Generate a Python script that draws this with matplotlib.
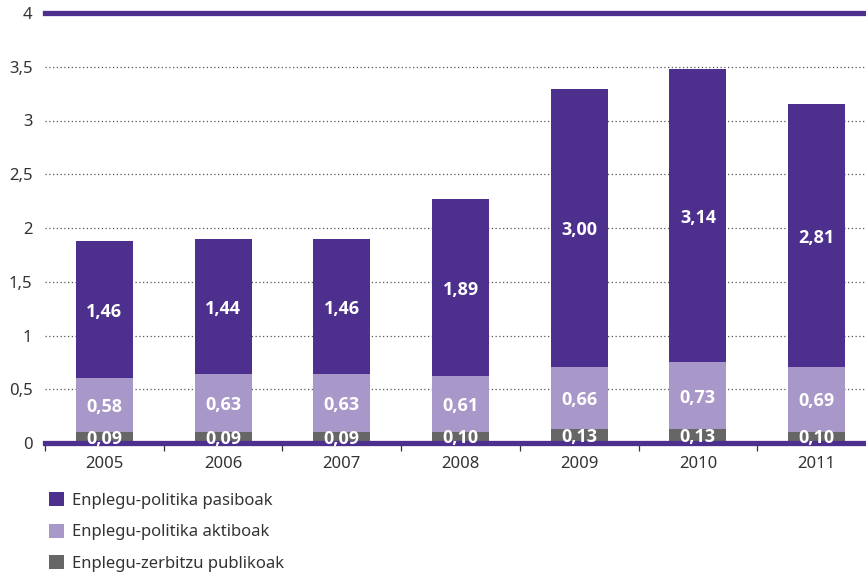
import matplotlib
matplotlib.use("Agg")
import matplotlib.pyplot as plt
import numpy as np

plt.rcParams['font.family'] = ['Noto Sans', 'DejaVu Sans']

years = ['2005', '2006', '2007', '2008', '2009', '2010', '2011']

# values printed on the bars
public_vals = [0.09, 0.09, 0.09, 0.10, 0.13, 0.13, 0.10]
active_vals = [0.58, 0.63, 0.63, 0.61, 0.66, 0.73, 0.69]
passive_vals = [1.46, 1.44, 1.46, 1.89, 3.00, 3.14, 2.81]

# segment heights as drawn in the picture (they do not follow the printed values)
public_h = [0.10, 0.10, 0.10, 0.105, 0.13, 0.13, 0.105]
active_h = [0.505, 0.54, 0.54, 0.52, 0.58, 0.625, 0.605]
passive_h = [1.275, 1.26, 1.26, 1.645, 2.585, 2.725, 2.44]

labels = ['Enplegu-politika pasiboak', 'Enplegu-politika aktiboak', 'Enplegu-zerbitzu publikoak']

DARK = '#4d2f8e'
LIGHT = '#a898c9'
GREY = '#666666'
TXT = '#333333'
LBL_FONT = ['Open Sans', 'Lato', 'DejaVu Sans']


def fmt(v):
    return f"{v:.2f}".replace('.', ',')


fig = plt.figure(figsize=(8.66, 5.72), dpi=100)
W, H = 866, 572
ax = fig.add_axes([45 / W, (H - 443) / H, (876 - 45) / W, (443 - 13) / H])

x = np.arange(len(years))
bw = 0.48
b1 = ax.bar(x, public_h, bw, color=GREY, zorder=2)
b2 = ax.bar(x, active_h, bw, bottom=public_h, color=LIGHT, zorder=2)
bottom2 = np.array(public_h) + np.array(active_h)
b3 = ax.bar(x, passive_h, bw, bottom=bottom2, color=DARK, zorder=2)

# data labels
for i in range(len(years)):
    ax.text(x[i], public_h[i] / 2 - 0.01, fmt(public_vals[i]), ha='center', va='center',
            color='white', fontsize=13, fontweight='bold', family=LBL_FONT, zorder=5)
    ax.text(x[i], public_h[i] + active_h[i] / 2 - 0.02, fmt(active_vals[i]), ha='center', va='center',
            color='white', fontsize=13, fontweight='bold', family=LBL_FONT, zorder=5)
    ax.text(x[i], bottom2[i] + passive_h[i] / 2 - 0.02, fmt(passive_vals[i]), ha='center', va='center',
            color='white', fontsize=13, fontweight='bold', family=LBL_FONT, zorder=5)

ax.set_xlim(-0.5, len(years) - 0.5)
ax.set_ylim(0, 4)

# thick purple lines at 0 and 4
ax.axhline(0, color=DARK, lw=3.8, zorder=3, clip_on=False)
ax.axhline(4, color=DARK, lw=3.8, zorder=3, clip_on=False)

# dotted grid
for g in [0.5, 1, 1.5, 2, 2.5, 3, 3.5]:
    ax.axhline(g, color='#555555', lw=0.9, ls=(0, (1, 2)), zorder=1)

for s in ax.spines.values():
    s.set_visible(False)

yt = [0, 0.5, 1, 1.5, 2, 2.5, 3, 3.5, 4]
ax.set_yticks(yt)
ax.set_yticklabels([('%g' % v).replace('.', ',') for v in yt])
ax.tick_params(axis='y', length=0, pad=9, labelsize=12, labelcolor=TXT)

ax.set_xticks(np.arange(-0.5, len(years), 1.0))
ax.set_xticklabels([])
ax.tick_params(axis='x', which='major', length=5.5, width=0.9, color='#333333', direction='out')
ax.set_xticks(x, minor=True)
ax.set_xticklabels(years, minor=True)
ax.tick_params(axis='x', which='minor', length=0, pad=9, labelsize=12, labelcolor=TXT)

fig.legend([b3, b2, b1], labels, loc='upper left',
           bbox_to_anchor=(49 / W, 1 - 492 / H), frameon=False, fontsize=12,
           handlelength=0.9, handleheight=0.9, handletextpad=0.45, labelspacing=0.9,
           borderpad=0, borderaxespad=0, labelcolor=TXT)

fig.savefig('out.png', dpi=100)
